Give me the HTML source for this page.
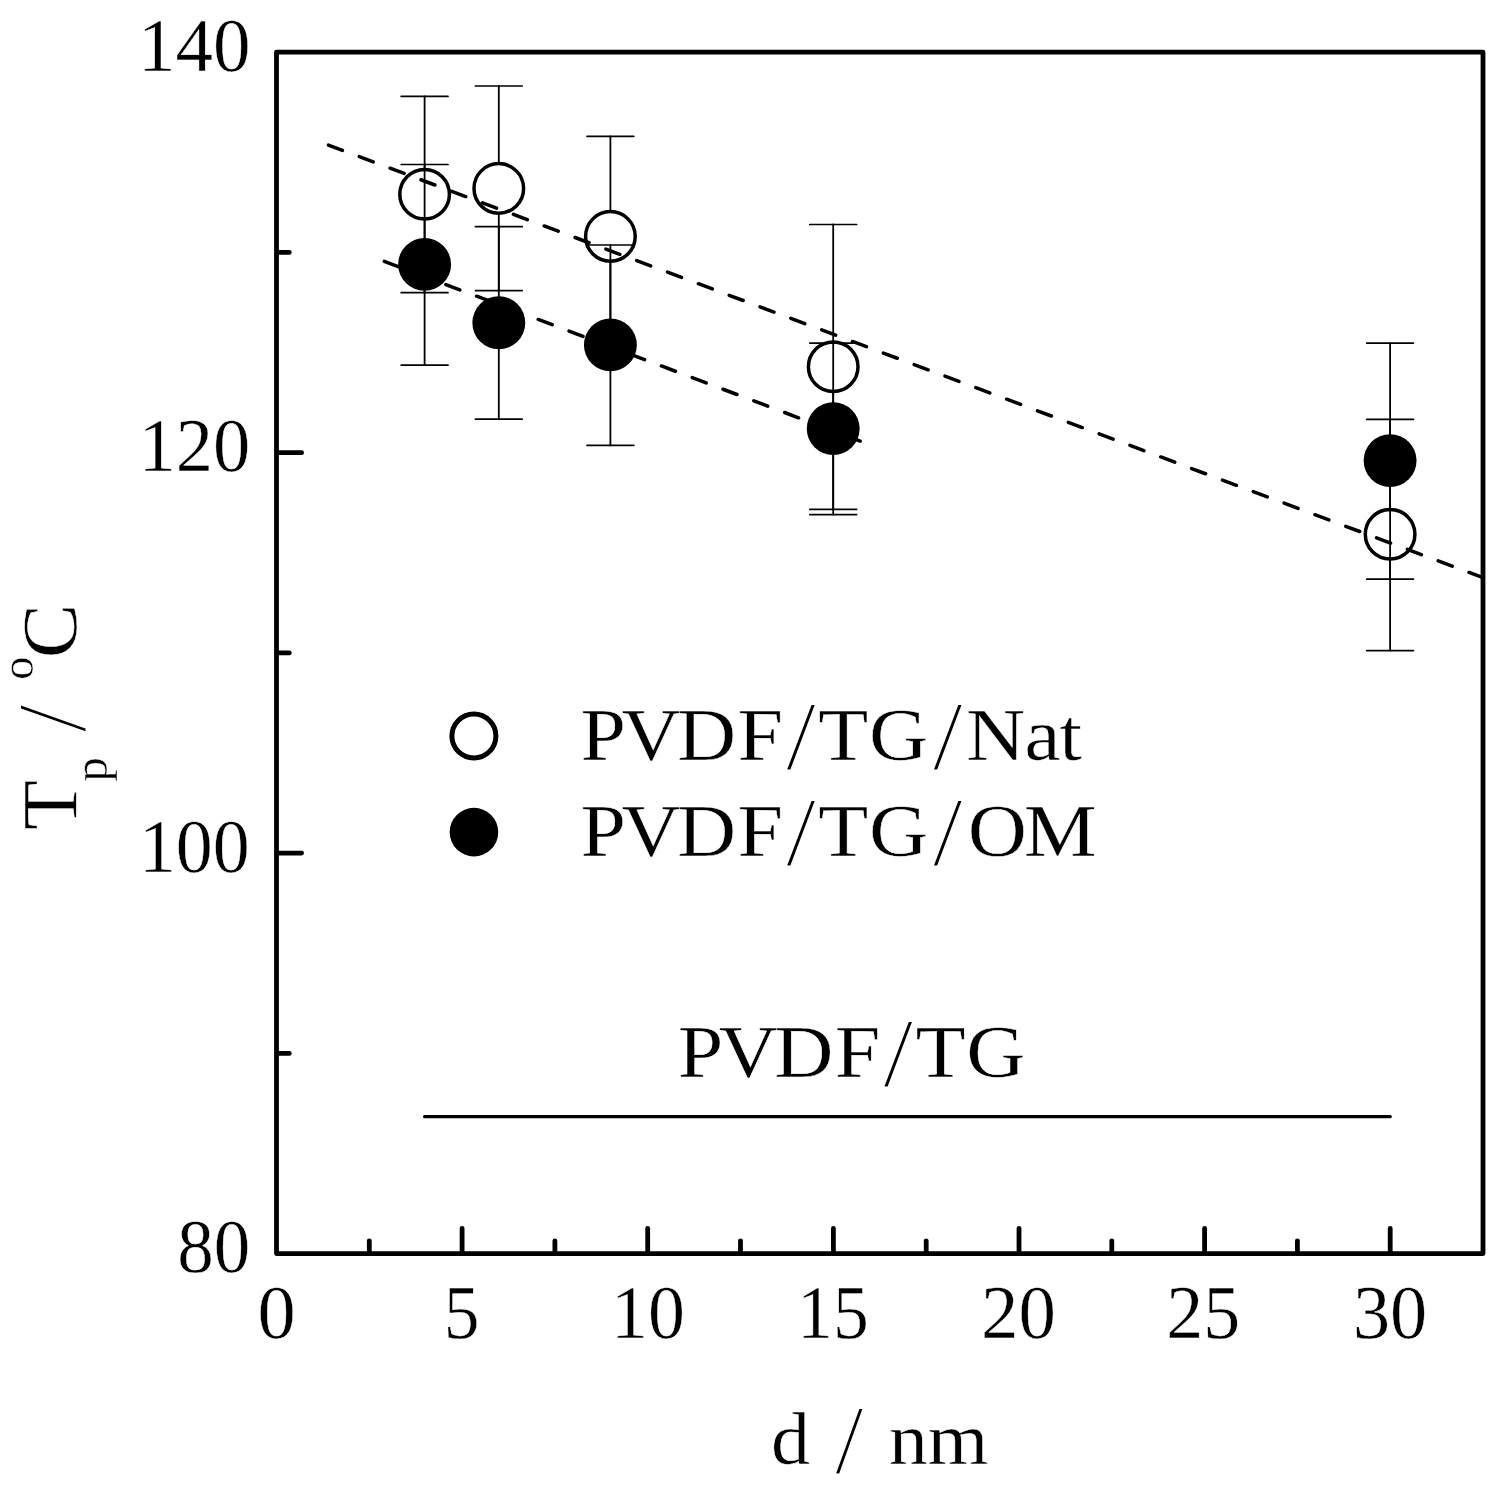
<!DOCTYPE html>
<html lang="en">
<head>
<meta charset="utf-8">
<title>Tp vs d</title>
<style>
html,body{margin:0;padding:0;background:#fff;}
body{width:1506px;height:1491px;overflow:hidden;}
svg{display:block;}
text{font-family:"Liberation Serif", serif;fill:#000;stroke:#fff;stroke-width:0.45px;}
</style>
</head>
<body>
<svg width="1506" height="1491" viewBox="0 0 1506 1491">
<rect x="0" y="0" width="1506" height="1491" fill="#fff"/>
<!-- open series -->
<g stroke="#000" fill="none" stroke-linecap="round">
<path stroke-width="1.8" d="M424.6 96.4V292.7"/><path stroke-width="1.7" d="M401.2 96.4H448.0M401.2 292.7H448.0"/>
<path stroke-width="1.8" d="M498.8 86.0V290.6"/><path stroke-width="1.7" d="M475.4 86.0H522.2M475.4 290.6H522.2"/>
<path stroke-width="1.8" d="M610.4 136.3V337.3"/><path stroke-width="1.7" d="M587.0 136.3H633.8M587.0 337.3H633.8"/>
<path stroke-width="1.8" d="M833.2 224.5V509.4"/><path stroke-width="1.7" d="M809.8 224.5H856.6M809.8 509.4H856.6"/>
<path stroke-width="1.8" d="M1390.1 419.4V650.6"/><path stroke-width="1.7" d="M1366.7 419.4H1413.5M1366.7 650.6H1413.5"/>
</g>
<g stroke="#000" stroke-width="3.5" fill="#fff">
<circle cx="424.6" cy="194.3" r="24.8"/>
<circle cx="498.8" cy="188.4" r="24.8"/>
<circle cx="610.4" cy="236.4" r="24.8"/>
<circle cx="833.2" cy="366.8" r="24.8"/>
<circle cx="1390.1" cy="534.2" r="24.8"/>
</g>
<!-- filled series -->
<g stroke="#000" fill="none" stroke-linecap="round">
<path stroke-width="1.8" d="M424.6 164.5V365.2"/><path stroke-width="1.7" d="M401.2 164.5H448.0M401.2 365.2H448.0"/>
<path stroke-width="1.8" d="M498.8 226.7V419.1"/><path stroke-width="1.7" d="M475.4 226.7H522.2M475.4 419.1H522.2"/>
<path stroke-width="1.8" d="M610.4 245.0V445.4"/><path stroke-width="1.7" d="M587.0 245.0H633.8M587.0 445.4H633.8"/>
<path stroke-width="1.8" d="M833.2 343.1V514.6"/><path stroke-width="1.7" d="M809.8 343.1H856.6M809.8 514.6H856.6"/>
<path stroke-width="1.8" d="M1390.1 343.1V579.1"/><path stroke-width="1.7" d="M1366.7 343.1H1413.5M1366.7 579.1H1413.5"/>
</g>
<g fill="#000">
<circle cx="424.6" cy="264.4" r="26.45"/>
<circle cx="498.8" cy="322.8" r="26.45"/>
<circle cx="610.4" cy="344.9" r="26.45"/>
<circle cx="833.2" cy="428.6" r="26.45"/>
<circle cx="1390.1" cy="460.6" r="26.45"/>
</g>
<g stroke="#000" stroke-width="3.5" fill="none" stroke-linecap="round">
<line x1="328.44" y1="145.11" x2="1483.00" y2="577.70" stroke-dasharray="14.90 18.02"/>
<line x1="384.24" y1="261.32" x2="862.20" y2="441.80" stroke-dasharray="14.90 18.02"/>
</g>
<line x1="424.6" y1="1116.65" x2="1390.25" y2="1116.65" stroke="#000" stroke-width="3.2" stroke-linecap="round"/>
<rect x="276.5" y="52.2" width="1206.5" height="1201.4" fill="none" stroke="#000" stroke-width="4.8" stroke-linejoin="round"/>
<g stroke="#000" stroke-width="4.8" stroke-linecap="round" fill="none">
<line x1="462.1" y1="1252.6" x2="462.1" y2="1228.5"/>
<line x1="647.7" y1="1252.6" x2="647.7" y2="1228.5"/>
<line x1="833.4" y1="1252.6" x2="833.4" y2="1228.5"/>
<line x1="1019.0" y1="1252.6" x2="1019.0" y2="1228.5"/>
<line x1="1204.6" y1="1252.6" x2="1204.6" y2="1228.5"/>
<line x1="1390.2" y1="1252.6" x2="1390.2" y2="1228.5"/>
<line x1="369.3" y1="1252.6" x2="369.3" y2="1240.8"/>
<line x1="554.9" y1="1252.6" x2="554.9" y2="1240.8"/>
<line x1="740.5" y1="1252.6" x2="740.5" y2="1240.8"/>
<line x1="926.2" y1="1252.6" x2="926.2" y2="1240.8"/>
<line x1="1111.8" y1="1252.6" x2="1111.8" y2="1240.8"/>
<line x1="1297.4" y1="1252.6" x2="1297.4" y2="1240.8"/>
<line x1="277.5" y1="853.1" x2="301.6" y2="853.1"/>
<line x1="277.5" y1="452.7" x2="301.6" y2="452.7"/>
<line x1="277.5" y1="1053.4" x2="289.3" y2="1053.4"/>
<line x1="277.5" y1="652.9" x2="289.3" y2="652.9"/>
<line x1="277.5" y1="252.4" x2="289.3" y2="252.4"/>
</g>
<!-- tick labels -->
<text transform="translate(257.59 1338.20) scale(1.0152 1.0000)" font-size="75.3">0</text>
<text transform="translate(443.65 1338.20) scale(0.9495 1.0000)" font-size="75.3">5</text>
<text transform="translate(611.00 1338.20) scale(0.9816 1.0000)" font-size="75.3">10</text>
<text transform="translate(797.11 1338.20) scale(0.9507 1.0000)" font-size="75.3">15</text>
<text transform="translate(981.01 1338.20) scale(0.9939 1.0000)" font-size="75.3">20</text>
<text transform="translate(1166.35 1338.20) scale(0.9834 1.0000)" font-size="75.3">25</text>
<text transform="translate(1352.95 1338.20) scale(0.9865 1.0000)" font-size="75.3">30</text>
<text transform="translate(137.90 71.00) scale(0.9974 1.0000)" font-size="75.3">140</text>
<text transform="translate(138.45 471.47) scale(0.9897 1.0000)" font-size="75.3">120</text>
<text transform="translate(138.90 871.93) scale(0.9820 1.0000)" font-size="75.3">100</text>
<text transform="translate(177.22 1272.40) scale(0.9689 1.0000)" font-size="75.3">80</text>
<!-- legend -->
<circle cx="473.9" cy="736.0" r="22" fill="#fff" stroke="#000" stroke-width="5"/>
<circle cx="473.95" cy="832.1" r="24.3" fill="#000"/>
<text transform="translate(0 759.90) scale(1.1000 1)" font-size="74.5"><tspan x="527.70 565.05 615.52 670.42" y="0">PVDF</tspan><tspan x="714.25" y="9.40" font-size="99.3" stroke-width="1.8">/</tspan><tspan x="743.83 790.05" y="0">TG</tspan><tspan x="847.71" y="9.40" font-size="99.3" stroke-width="1.8">/</tspan><tspan x="878.24 931.08 963.01" y="0">Nat</tspan></text>
<text transform="translate(0 855.90) scale(1.1000 1)" font-size="74.5"><tspan x="527.70 565.05 615.52 670.42" y="0">PVDF</tspan><tspan x="714.25" y="9.40" font-size="99.3" stroke-width="1.8">/</tspan><tspan x="743.83 790.05" y="0">TG</tspan><tspan x="847.71" y="9.40" font-size="99.3" stroke-width="1.8">/</tspan><tspan x="879.78 930.62" y="0">OM</tspan></text>
<text transform="translate(0 1077.00) scale(1.1000 1)" font-size="74.5"><tspan x="616.16 653.51 703.97 758.87" y="0">PVDF</tspan><tspan x="802.71" y="9.40" font-size="99.3" stroke-width="1.8">/</tspan><tspan x="832.28 878.51" y="0">TG</tspan></text>
<!-- axis labels -->
<text transform="translate(0 1463.70) scale(1.0500 1)" font-size="74.5"><tspan x="734.39 734.39" y="0">d </tspan><tspan x="795.02" y="9.40" font-size="99.3" stroke-width="1.8">/</tspan><tspan x="795.02 846.56 883.44" y="0"> nm</tspan></text>
<text transform="translate(75.6 829) rotate(-90) scale(1.100 1.060)" font-size="74.5"><tspan x="-0.94" y="0">T</tspan><tspan x="43.04" y="29.91" font-size="45">p</tspan><tspan x="68.18" y="0"> </tspan><tspan x="87.56" y="8.49" font-size="93.5" stroke-width="1.8">/</tspan><tspan x="118.18" y="0"> </tspan><tspan x="135.43" y="-40.57" font-size="43">o</tspan><tspan x="155.32" y="0">C</tspan></text>
</svg>
</body>
</html>
